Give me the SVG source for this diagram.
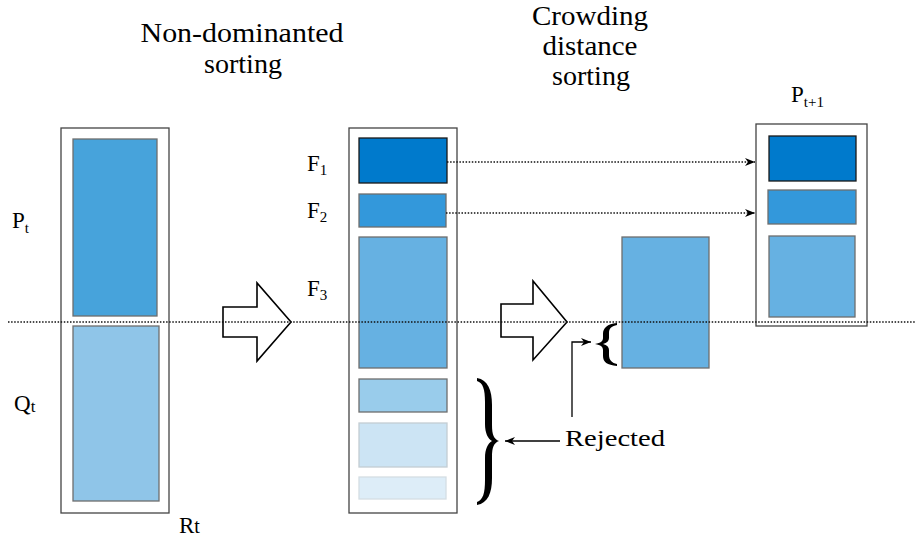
<svg xmlns="http://www.w3.org/2000/svg" width="915" height="540" viewBox="0 0 915 540">
  <style>
    text { font-family: "Liberation Serif", "DejaVu Serif", serif; fill: #000; }
    .ttl { font-size: 27px; }
    .lbl { font-size: 23px; }
    .sub { font-size: 15px; }
    .frame { fill: #fff; stroke: #444; stroke-width: 1.3; }
    .blk { stroke: #6e6e6e; stroke-width: 1.3; }
    .hollow { fill: #fff; stroke: #000; stroke-width: 1.6; stroke-linejoin: miter; }
    .dots { fill: none; stroke: #111; stroke-width: 1.5; stroke-dasharray: 1.5 1.6; }
    .solid { fill: none; stroke: #000; stroke-width: 1.3; }
  </style>
  <defs>
    <marker id="head" viewBox="0 0 10 8" refX="10" refY="4" markerWidth="10" markerHeight="8" markerUnits="userSpaceOnUse" orient="auto">
      <path d="M0,0 L10,4 L0,8 L3,4 Z" fill="#000"/>
    </marker>
  </defs>

  <!-- Step titles -->
  <g id="title-nds">
    <text class="ttl" x="242" y="42" text-anchor="middle" textLength="203" lengthAdjust="spacingAndGlyphs">Non-dominanted</text>
    <text class="ttl" x="243" y="73" text-anchor="middle" textLength="78" lengthAdjust="spacingAndGlyphs">sorting</text>
  </g>
  <g id="title-cd">
    <text class="ttl" x="590" y="25" text-anchor="middle" textLength="116" lengthAdjust="spacingAndGlyphs">Crowding</text>
    <text class="ttl" x="590" y="55" text-anchor="middle" textLength="95" lengthAdjust="spacingAndGlyphs">distance</text>
    <text class="ttl" x="591" y="85" text-anchor="middle" textLength="78" lengthAdjust="spacingAndGlyphs">sorting</text>
  </g>

  <!-- Combined population R_t = P_t + Q_t -->
  <g id="Rt">
    <rect class="frame" x="61" y="128" width="108" height="385"/>
    <rect class="blk" x="73" y="139" width="84" height="177" fill="#47a3db"/>
    <rect class="blk" x="73" y="326" width="86" height="175" fill="#8fc5e8" stroke="#9aa8b2"/>
    <text class="lbl" x="12" y="228">P<tspan class="sub" dy="5">t</tspan></text>
    <text class="lbl" x="14" y="411">Q<tspan font-size="17" dy="1">t</tspan></text>
    <text class="lbl" x="179" y="533">R<tspan font-size="20">t</tspan></text>
  </g>

  <!-- Fronts after non-dominated sorting -->
  <g id="fronts">
    <rect class="frame" x="349" y="128" width="108" height="385"/>
    <rect x="359" y="138" width="88" height="45" fill="#007acc" stroke="#1a1a1a" stroke-width="1.3"/>
    <rect class="blk" x="359" y="194" width="87" height="33" fill="#3398db" stroke="#505a64"/>
    <rect class="blk" x="359" y="237" width="88" height="131" fill="#66b1e2"/>
    <rect class="blk" x="359" y="379" width="88" height="33" fill="#99cceb" stroke="#9a9a9a"/>
    <rect x="359" y="423" width="88" height="44" fill="#cce4f4" stroke="#c4cdd3" stroke-width="1.3"/>
    <rect x="359" y="477" width="87" height="22" fill="#ddedf8" stroke="#d4dde3" stroke-width="1.3"/>
    <text class="lbl" x="307" y="171">F<tspan class="sub" dy="4">1</tspan></text>
    <text class="lbl" x="307" y="218">F<tspan class="sub" dy="4">2</tspan></text>
    <text class="lbl" x="307" y="296">F<tspan class="sub" dy="4">3</tspan></text>
  </g>

  <!-- Part of F3 handled by crowding distance -->
  <g id="f3-split">
    <rect class="blk" x="622" y="237" width="87" height="131" fill="#66b1e2"/>
  </g>

  <!-- Next population P_{t+1} -->
  <g id="Pt1">
    <rect class="frame" x="756" y="124" width="111" height="202"/>
    <rect x="769" y="136" width="87" height="45" fill="#007acc" stroke="#1a1a1a" stroke-width="1.3"/>
    <rect class="blk" x="768" y="190" width="88" height="34" fill="#3398db" stroke="#505a64"/>
    <rect class="blk" x="769" y="236" width="86" height="81" fill="#66b1e2"/>
    <text class="lbl" x="791" y="102">P<tspan class="sub" dy="5">t+1</tspan></text>
  </g>

  <!-- Rejected label -->
  <g id="rejected">
    <text x="565" y="446" font-size="24" textLength="100" lengthAdjust="spacingAndGlyphs">Rejected</text>
  </g>

  <!-- Braces -->
  <g id="braces">
    <path fill="#000" d="M477,378 C488,380 492,390 492,405 L492,425 C492,435 494,439 499,441 C494,443 492,447 492,457 L492,478 C492,493 488,503 477,505 L477,502 C483,500 485,493 485,480 L485,458 C485,449 488,443 492,441 C488,439 485,433 485,424 L485,402 C485,389 483,383 477,381 Z"/>
    <path fill="#000" d="M617,323 C607,324 603,328 603,334 L603,338 C603,341 601,343 595,344 C601,345 603,347 603,350 L603,356 C603,362 607,365 617,366 L617,364 C612,363 609,360 609,355 L609,350 C609,347 607,345 603,344 C607,343 609,341 609,338 L609,333 C609,328 612,326 617,325 Z"/>
  </g>

  <!-- Connectors -->
  <g id="connectors">
    <path class="hollow" d="M223,307 L257,307 L257,283 L291,322 L257,361 L257,337 L223,337 Z"/>
    <path class="hollow" d="M501,304 L533,304 L533,281 L567,322 L533,360 L533,337 L501,337 Z"/>
    <line class="dots" x1="447" y1="162" x2="755" y2="162" marker-end="url(#head)"/>
    <line class="dots" x1="446" y1="213" x2="755" y2="213" marker-end="url(#head)"/>
    <line class="solid" x1="560" y1="441" x2="505" y2="441" marker-end="url(#head)"/>
    <polyline class="solid" points="572,417 572,342 591,342" marker-end="url(#head)"/>
    <line class="dots" x1="8" y1="322" x2="915" y2="322"/>
  </g>
</svg>
